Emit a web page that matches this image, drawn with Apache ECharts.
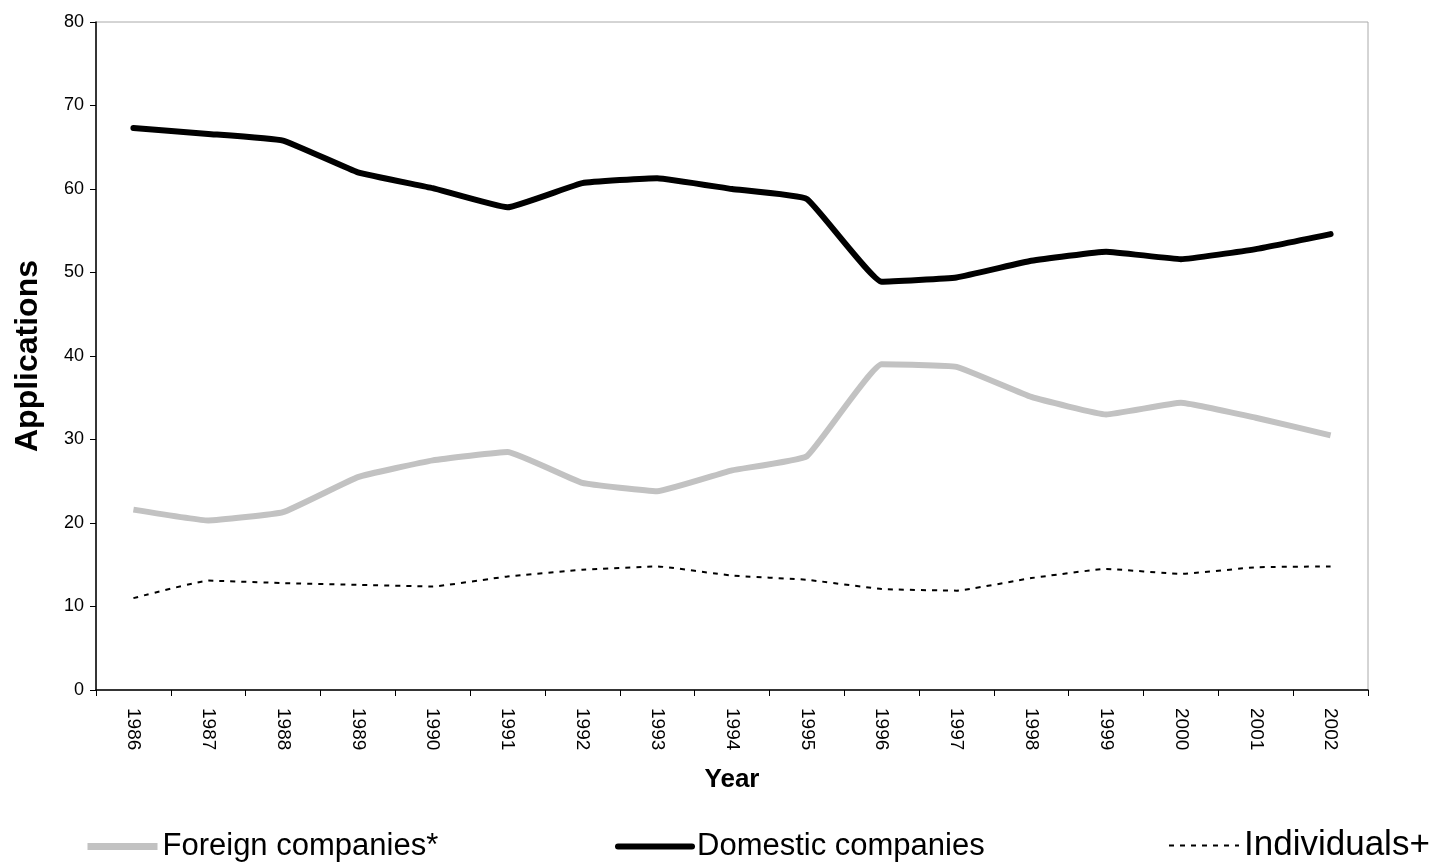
<!DOCTYPE html>
<html>
<head>
<meta charset="utf-8">
<script src="https://cdn.jsdelivr.net/npm/echarts@6/dist/echarts.min.js"></script>
<style>html,body{margin:0;padding:0;background:#fff}#c{width:1445px;height:864px}</style>
</head>
<body>
<div id="c"></div>
<script>
const years = ['1986','1987','1988','1989','1990','1991','1992','1993','1994','1995','1996','1997','1998','1999','2000','2001','2002'];
const foreign = [21.6,20.3,21.3,25.5,27.5,28.5,24.8,23.8,26.3,28.0,39.0,38.7,35.1,33.0,34.4,32.6,30.5];
const domestic = [67.3,66.6,65.8,62.0,60.1,57.8,60.7,61.3,60.0,58.8,48.9,49.4,51.4,52.5,51.6,52.8,54.6];
const individuals = [11.0,13.1,12.8,12.6,12.4,13.6,14.4,14.8,13.7,13.2,12.1,11.9,13.4,14.5,13.9,14.7,14.8];
const yTicks = {min:0, max:80, interval:10};

const font = 'Liberation Sans, Arial, sans-serif';
const chart = echarts.init(document.getElementById('c'), null, {renderer:'canvas'});
const legendText = {fontFamily:font, fontSize:31, color:'#000'};
const legendCommon = {top:826, itemWidth:70, itemHeight:10, itemStyle:{opacity:0}};
chart.setOption({
  animation:false,
  backgroundColor:'#fff',
  grid:{left:96, right:77, top:22, bottom:174, show:true, borderColor:'#aaa', borderWidth:1},
  legend:[
    Object.assign({data:['Foreign companies*'], left:79, textStyle:legendText}, legendCommon, {lineStyle:{width:7}}),
    Object.assign({data:['Domestic companies'], left:610, textStyle:legendText}, legendCommon, {itemWidth:74, lineStyle:{width:6, cap:'round'}}),
    Object.assign({data:['Individuals+'], left:1163, textStyle:Object.assign({}, legendText, {fontSize:35})}, legendCommon, {top:823})
  ],
  xAxis:{
    type:'category', data:years, boundaryGap:true,
    name:'Year', nameLocation:'middle', nameGap:77, nameMoveOverlap:false,
    nameTextStyle:{fontFamily:font, fontSize:26, fontWeight:'bold', color:'#000'},
    axisLine:{lineStyle:{color:'#000', width:1.5}},
    axisTick:{show:true, alignWithLabel:false, length:6, lineStyle:{color:'#000'}},
    axisLabel:{rotate:-90, fontFamily:font, fontSize:19, color:'#000', margin:18, interval:0},
    splitLine:{show:false}
  },
  yAxis:{
    type:'value', min:yTicks.min, max:yTicks.max, interval:yTicks.interval,
    name:'Applications', nameLocation:'middle', nameGap:52, nameRotate:90, nameMoveOverlap:false,
    nameTextStyle:{fontFamily:font, fontSize:32, fontWeight:'bold', color:'#000'},
    axisLine:{show:true, lineStyle:{color:'#000', width:1.5}},
    axisTick:{show:true, length:6, lineStyle:{color:'#000'}},
    axisLabel:{fontFamily:font, fontSize:18, color:'#000', margin:12},
    splitLine:{show:false}
  },
  series:[
    {name:'Foreign companies*', type:'line', data:foreign, smooth:0.1, symbol:'none',
     lineStyle:{color:'#c2c2c2', width:6}, itemStyle:{color:'#c2c2c2'}},
    {name:'Domestic companies', type:'line', data:domestic, smooth:0.1, symbol:'none',
     lineStyle:{color:'#000', width:6, cap:'round'}, itemStyle:{color:'#000'}},
    {name:'Individuals+', type:'line', data:individuals, smooth:0.1, symbol:'none',
     lineStyle:{color:'#000', width:2, type:[5,6]}, itemStyle:{color:'#000'}}
  ]
});
</script>
</body>
</html>
